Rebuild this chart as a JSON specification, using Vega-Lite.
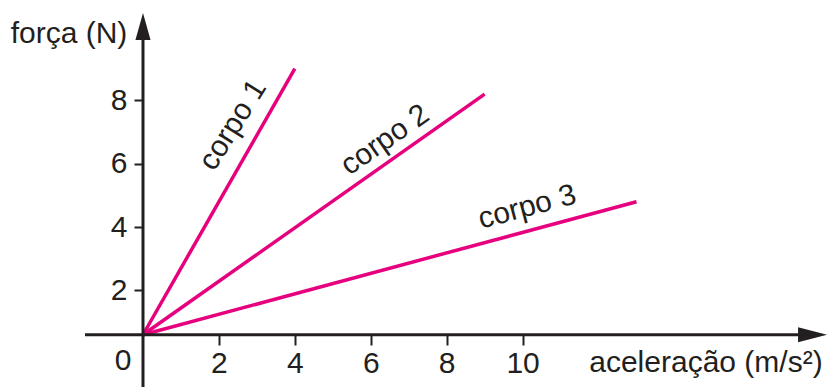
{
  "$schema": "https://vega.github.io/schema/vega-lite/v6.json",
  "width": 830,
  "height": 387,
  "autosize": {"type": "none"},
  "padding": 0,
  "background": "white",
  "config": {"view": {"stroke": null}, "font": "Liberation Sans"},
  "datasets": {
    "axes": [
      {"axis": "x", "x1": -1.528, "x2": 17.5, "y1": 0.6, "y2": 0.6},
      {"axis": "y", "x1": 0, "x2": 0, "y1": -1.05, "y2": 10.3}
    ],
    "tips": [
      {"axis": "x", "x": 18.02, "y": 0.6},
      {"axis": "y", "x": 0, "y": 10.76}
    ],
    "lines": [
      {"body": "corpo 1", "a": 0, "F": 0.6},
      {"body": "corpo 1", "a": 4, "F": 9.0},
      {"body": "corpo 2", "a": 0, "F": 0.6},
      {"body": "corpo 2", "a": 9, "F": 8.2},
      {"body": "corpo 3", "a": 0, "F": 0.6},
      {"body": "corpo 3", "a": 13, "F": 4.8}
    ],
    "labels": [
      {"text": "corpo 1", "x": 2.37, "y": 7.22},
      {"text": "corpo 2", "x": 6.375, "y": 6.75},
      {"text": "corpo 3", "x": 10.12, "y": 4.63}
    ],
    "titles": [
      {"text": "força (N)", "x": -1.95, "y": 10.1},
      {"text": "aceleração (m/s²)", "x": 14.83, "y": -0.3},
      {"text": "0", "x": -0.527, "y": -0.22}
    ]
  },
  "layer": [
    {
      "data": {"name": "lines"},
      "mark": {"type": "line", "color": "#e6007e", "strokeWidth": 3.5},
      "encoding": {
        "x": {
          "field": "a", "type": "quantitative",
          "scale": {"domain": [-3.767, 18.098], "nice": false, "zero": false},
          "axis": {
            "orient": "bottom", "offset": -52, "values": [2, 4, 6, 8, 10],
            "domain": false, "grid": false, "title": null,
            "tickSize": 10, "tickWidth": 2, "tickColor": "#231f20",
            "labelFontSize": 30, "labelFont": "Liberation Sans", "labelColor": "#231f20",
            "labelPadding": 3
          }
        },
        "y": {
          "field": "F", "type": "quantitative",
          "scale": {"domain": [-1.05, 11.17], "nice": false, "zero": false},
          "axis": {
            "orient": "left", "offset": -143, "values": [2, 4, 6, 8],
            "domain": false, "grid": false, "title": null,
            "tickSize": 9, "tickWidth": 2, "tickColor": "#231f20",
            "labelFontSize": 30, "labelFont": "Liberation Sans", "labelColor": "#231f20",
            "labelPadding": 7
          }
        },
        "detail": {"field": "body"}
      }
    },
    {
      "data": {"name": "axes"},
      "mark": {"type": "rule", "color": "#231f20", "strokeWidth": 3},
      "encoding": {
        "x": {"field": "x1", "type": "quantitative"},
        "x2": {"field": "x2"},
        "y": {"field": "y1", "type": "quantitative"},
        "y2": {"field": "y2"}
      }
    },
    {
      "data": {"name": "tips"},
      "transform": [{"filter": "datum.axis === 'y'"}],
      "mark": {"type": "point", "shape": "M0,0 L0.28,1 L-0.28,1 Z", "size": 2916, "filled": true, "color": "#231f20", "opacity": 1},
      "encoding": {
        "x": {"field": "x", "type": "quantitative"},
        "y": {"field": "y", "type": "quantitative"}
      }
    },
    {
      "data": {"name": "tips"},
      "transform": [{"filter": "datum.axis === 'x'"}],
      "mark": {"type": "point", "shape": "M0,0 L-1,-0.26 L-1,0.26 Z", "size": 3364, "filled": true, "color": "#231f20", "opacity": 1},
      "encoding": {
        "x": {"field": "x", "type": "quantitative"},
        "y": {"field": "y", "type": "quantitative"}
      }
    },
    {
      "data": {"name": "labels"},
      "transform": [{"filter": "datum.text === 'corpo 1'"}],
      "mark": {"type": "text", "angle": -58, "fontSize": 30, "color": "#231f20", "align": "center", "baseline": "middle"},
      "encoding": {
        "x": {"field": "x", "type": "quantitative"},
        "y": {"field": "y", "type": "quantitative"},
        "text": {"field": "text"}
      }
    },
    {
      "data": {"name": "labels"},
      "transform": [{"filter": "datum.text === 'corpo 2'"}],
      "mark": {"type": "text", "angle": -35, "fontSize": 30, "color": "#231f20", "align": "center", "baseline": "middle"},
      "encoding": {
        "x": {"field": "x", "type": "quantitative"},
        "y": {"field": "y", "type": "quantitative"},
        "text": {"field": "text"}
      }
    },
    {
      "data": {"name": "labels"},
      "transform": [{"filter": "datum.text === 'corpo 3'"}],
      "mark": {"type": "text", "angle": -15, "fontSize": 30, "color": "#231f20", "align": "center", "baseline": "middle"},
      "encoding": {
        "x": {"field": "x", "type": "quantitative"},
        "y": {"field": "y", "type": "quantitative"},
        "text": {"field": "text"}
      }
    },
    {
      "data": {"name": "titles"},
      "mark": {"type": "text", "fontSize": 30, "color": "#231f20", "align": "center", "baseline": "middle"},
      "encoding": {
        "x": {"field": "x", "type": "quantitative"},
        "y": {"field": "y", "type": "quantitative"},
        "text": {"field": "text"}
      }
    }
  ]
}
